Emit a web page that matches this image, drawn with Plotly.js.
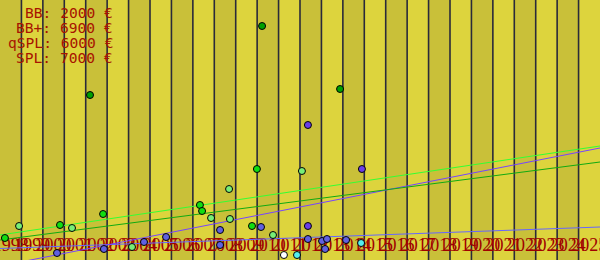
<!DOCTYPE html>
<html>
<head>
<meta charset="utf-8">
<script src="https://cdn.plot.ly/plotly-3.0.1.min.js"></script>
<style>html,body{margin:0;padding:0;background:#ddd43d;}#chart{width:600px;height:260px;}</style>
</head>
<body>
<div id="chart"></div>
<script>
// ---- data ----
const years = [1998,1999,2000,2001,2002,2003,2004,2005,2006,2007,2008,2009,2010,2011,2012,2013,2014,2015,2016,2017,2018,2019,2020,2021,2022,2023,2024,2025];
const tickLabels = years.map(String);

const labelLines = ["BB: 2000 €", "BB+: 6900 €", "qSPL: 6000 €", "SPL: 7000 €"];

// dark green points
const darkGreenX = [2001.70, 2009.73, 2013.37];
const darkGreenY = [8250, 11700, 8550];
// bright green points
const brightGreenX = [1997.73, 2000.30, 2002.31, 2006.83, 2006.93, 2009.26, 2009.49];
const brightGreenY = [1100, 1750, 2300, 2750, 2450, 1700, 4550];
// light green points
const lightGreenX = [1998.39, 2000.86, 2003.66, 2007.35, 2008.19, 2008.23, 2010.24, 2011.59];
const lightGreenY = [1700, 1600, 650, 2100, 3550, 2050, 1250, 4450];
// blue points
const blueX = [2000.16, 2002.35, 2004.22, 2005.25, 2007.77, 2007.77, 2009.68, 2011.87, 2012.53, 2012.76, 2012.67, 2013.65];
const blueY = [350, 550, 900, 1150, 1500, 750, 1650, 1050, 950, 1050, 550, 1000];
// purple points
const purpleX = [2011.87, 2014.39, 2011.87];
const purpleY = [6750, 4550, 1700];
// cyan points
const cyanX = [2011.36, 2014.35];
const cyanY = [250, 850];
// white points
const whiteX = [2010.75];
const whiteY = [250];

// trend lines
const trendX = [1997.5, 2025.5];
const trendBrightGreenY = [1250, 5700];
const trendDarkGreenY = [1000, 4900];
const trendPurpleY = [-300, 5600];
const trendBlueY = [575, 1650];

// ---- drawing ----
const shapes = [];
years.forEach((yr, i) => {
  shapes.push({type:'rect', xref:'x', yref:'paper', x0: yr-0.5, x1: yr+0.5, y0:0, y1:1,
    fillcolor: i % 2 === 0 ? '#c9c039' : '#ddd43d', line:{width:0}, layer:'below'});
});
years.slice(1).forEach(yr => {
  shapes.push({type:'line', xref:'x', yref:'paper', x0: yr-0.5, x1: yr-0.5, y0:0, y1:1,
    line:{color:'#2a2a3a', width:1.6}, layer:'below'});
});

function line(x, y, color) {
  return {x, y, type:'scatter', mode:'lines', line:{color, width:1}, hoverinfo:'skip', showlegend:false};
}
function pts(x, y, color) {
  return {x, y, type:'scatter', mode:'markers', cliponaxis:false,
    marker:{color, size:7, line:{color:'#000', width:1}}, showlegend:false};
}

const traces = [
  line(trendX, trendBlueY, '#6666ff'),
  line(trendX, trendPurpleY, '#7744ff'),
  line(trendX, trendDarkGreenY, '#11aa11'),
  line(trendX, trendBrightGreenY, '#33ff33'),
  pts(darkGreenX, darkGreenY, '#00a000'),
  pts(brightGreenX, brightGreenY, '#11dd11'),
  pts(lightGreenX, lightGreenY, '#77ee77'),
  pts(blueX, blueY, '#6060e0'),
  pts(purpleX, purpleY, '#6a3ee8'),
  pts(cyanX, cyanY, '#55eeee'),
  pts(whiteX, whiteY, '#ffffff'),
];

const annotations = labelLines.map((t, i) => ({
  text: t, xref:'paper', yref:'paper', x: 115/600, y: 1 - (12.5 + 15*i)/260,
  xanchor:'right', yanchor:'middle', showarrow:false,
  font:{family:'DejaVu Sans Mono', size:14.6, color:'#a81400'}
}));

const layout = {
  width:600, height:260,
  margin:{l:0, r:0, t:0, b:0},
  paper_bgcolor:'#ddd43d', plot_bgcolor:'#ddd43d',
  showlegend:false,
  xaxis:{range:[1997.5, 2025.5], tickmode:'array', tickvals:years, ticktext:tickLabels,
    ticklabelposition:'inside', ticks:'', tickangle:0, ticklabeloverflow:'allow',
    ticklabelstandoff:6,
    tickfont:{family:'Liberation Serif', size:18, color:'#a00000'},
    showgrid:false, zeroline:false, showline:true, mirror:true, linecolor:'#222', linewidth:2,
    layer:'below traces'},
  yaxis:{range:[0, 13000], showticklabels:false, ticks:'', showgrid:false, zeroline:false,
    showline:true, mirror:true, linecolor:'#222', linewidth:2},
  shapes, annotations
};

Plotly.newPlot('chart', traces, layout, {staticPlot:true, displayModeBar:false});
</script>
</body>
</html>
